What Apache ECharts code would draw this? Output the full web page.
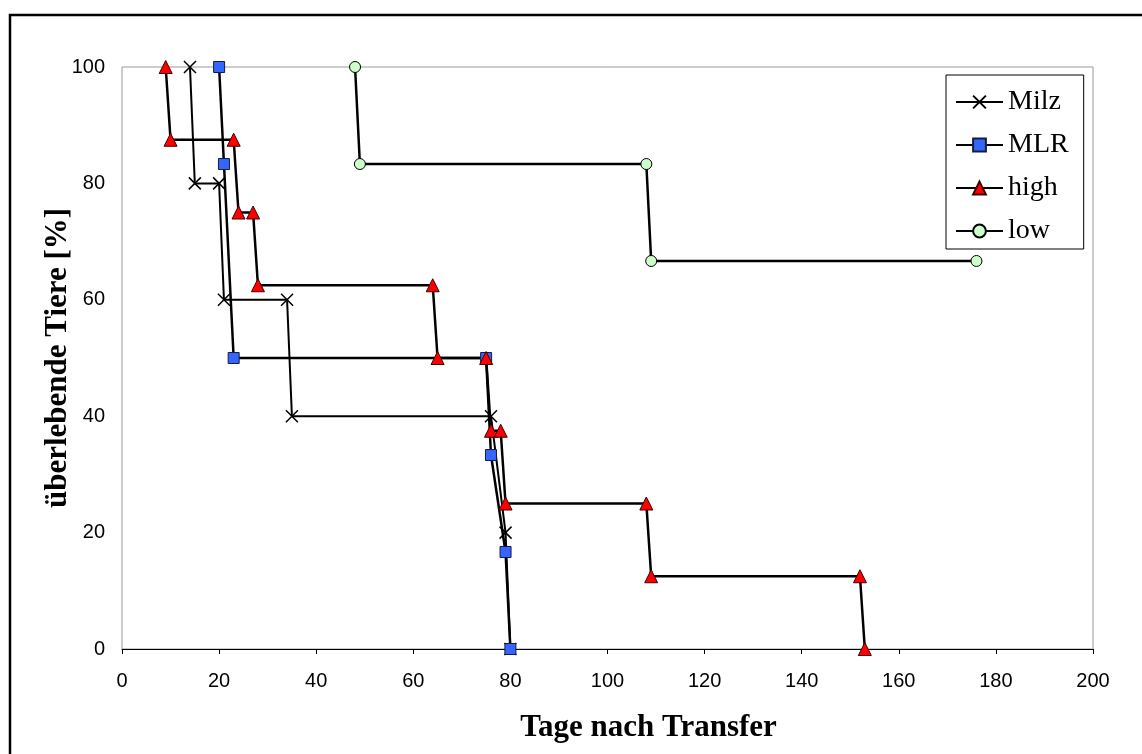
<!DOCTYPE html>
<html>
<head>
<meta charset="utf-8">
<script src="https://cdn.jsdelivr.net/npm/echarts@6/dist/echarts.min.js"></script>
<style>
html,body{margin:0;padding:0;background:#fff;}
#chart{width:1142px;height:754px;}
</style>
</head>
<body>
<div id="chart"></div>
<script>
// Data (days after transfer, % surviving animals)
const milzX = [14, 15, 20, 21, 34, 35, 76, 79, 80];
const milzY = [100, 80, 80, 60, 60, 40, 40, 20, 0];
const mlrX = [20, 21, 23, 75, 76, 79, 80];
const mlrY = [100, 83.33, 50, 50, 33.33, 16.67, 0];
const highX = [9, 10, 23, 24, 27, 28, 64, 65, 75, 76, 78, 79, 108, 109, 152, 153];
const highY = [100, 87.5, 87.5, 75, 75, 62.5, 62.5, 50, 50, 37.5, 37.5, 25, 25, 12.5, 12.5, 0];
const lowX = [48, 49, 108, 109, 176];
const lowY = [100, 83.33, 83.33, 66.67, 66.67];
const seriesNames = ['Milz', 'MLR', 'high', 'low'];
const xTicks = [0, 20, 40, 60, 80, 100, 120, 140, 160, 180, 200];
const yTicks = [0, 20, 40, 60, 80, 100];

const pairs = (xs, ys) => xs.map((x, i) => [x, ys[i]]);

const crossPath = 'path://M0,0L10,10M10,0L0,10';

const chart = echarts.init(document.getElementById('chart'), null, {renderer: 'canvas'});

const mk = (name, data, symbol, size, color, border, lw) => ({
  name: name,
  type: 'line',
  data: data,
  symbol: symbol,
  symbolSize: size,
  showAllSymbol: true,
  animation: false,
  lineStyle: {color: '#000', width: lw},
  itemStyle: {color: color, borderColor: border, borderWidth: 1}
});

chart.setOption({
  backgroundColor: '#fff',
  animation: false,
  grid: {left: 122, top: 67, right: 49, bottom: 105, show: true, borderColor: '#9a9a9a', borderWidth: 1, backgroundColor: '#fff'},
  xAxis: {
    type: 'value', min: xTicks[0], max: xTicks[xTicks.length - 1], interval: 20,
    name: 'Tage nach Transfer', nameLocation: 'middle', nameGap: 63, nameMoveOverlap: false,
    nameTextStyle: {fontFamily: 'Liberation Serif', fontWeight: 'bold', fontSize: 31, color: '#000', padding: [0, 0, 0, 82]},
    axisLine: {show: true, lineStyle: {color: '#000', width: 1}},
    axisTick: {show: true, length: 5, lineStyle: {color: '#000'}},
    axisLabel: {fontFamily: 'Liberation Sans', fontSize: 20, color: '#000', margin: 22},
    splitLine: {show: false}
  },
  yAxis: {
    type: 'value', min: yTicks[0], max: yTicks[yTicks.length - 1], interval: 20,
    name: 'überlebende Tiere [%]', nameLocation: 'middle', nameGap: 49, nameRotate: 90, nameMoveOverlap: false,
    nameTextStyle: {fontFamily: 'Liberation Serif', fontWeight: 'bold', fontSize: 31, color: '#000'},
    axisLine: {show: false},
    axisTick: {show: false},
    axisLabel: {fontFamily: 'Liberation Sans', fontSize: 20, color: '#000', margin: 17},
    splitLine: {show: false}
  },
  legend: {
    orient: 'vertical',
    left: 946, top: 75,
    padding: [13, 15, 4, 9],
    itemGap: 15,
    itemWidth: 47, itemHeight: 16,
    backgroundColor: '#fff',
    borderColor: '#000', borderWidth: 1,
    borderRadius: 0,
    textStyle: {fontFamily: 'Liberation Serif', fontSize: 28, color: '#000'},
    data: seriesNames.map(n => ({name: n}))
  },
  series: [
    Object.assign(mk(seriesNames[0], pairs(milzX, milzY), crossPath, 12, '#000', '#000', 2),
      {itemStyle: {color: 'none', borderColor: '#000', borderWidth: 1.5}}),
    mk(seriesNames[1], pairs(mlrX, mlrY), 'rect', 11, '#3366ff', '#1a1a40', 2.5),
    mk(seriesNames[2], pairs(highX, highY), 'triangle', 13, '#ff0000', '#400000', 2.5),
    mk(seriesNames[3], pairs(lowX, lowY), 'circle', 11, '#ccffcc', '#000', 2.5)
  ],
  graphic: [{
    type: 'rect', left: 7.5, top: 12.5, silent: true, z: 100,
    shape: {width: 1160, height: 780},
    style: {fill: 'none', stroke: '#000', lineWidth: 2.5}
  }]
});
</script>
</body>
</html>
